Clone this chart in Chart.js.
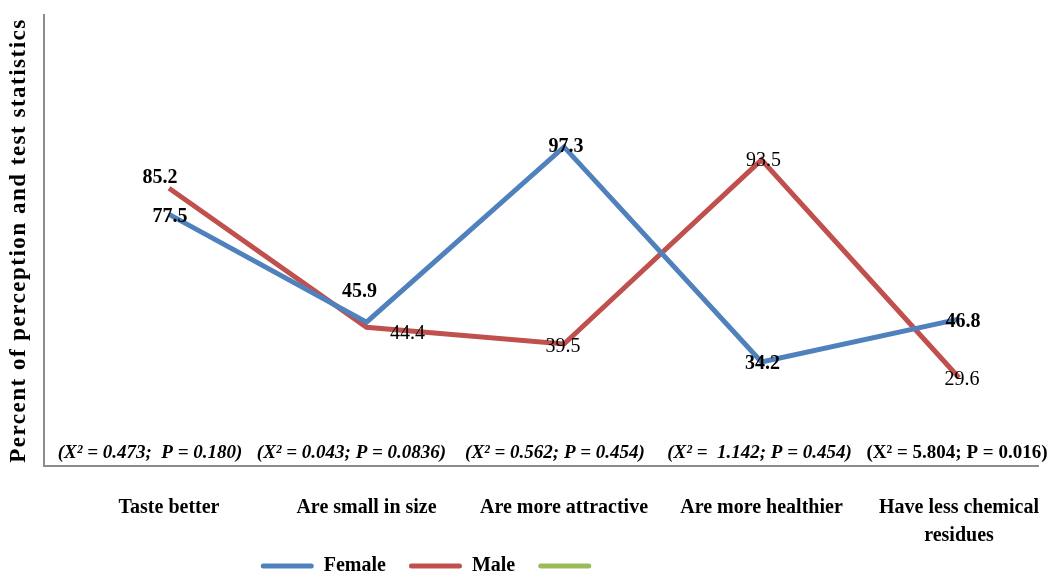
<!DOCTYPE html>
<html>
<head>
<meta charset="utf-8">
<script src="https://cdn.jsdelivr.net/npm/chart.js@4.4.1/dist/chart.umd.min.js"></script>
<style>
  html, body { margin: 0; padding: 0; background: #ffffff; }
  #wrap { width: 1055px; height: 581px; position: relative; }
</style>
</head>
<body>
<div id="wrap"><canvas id="chart" width="1055" height="581"></canvas></div>
<script>
// Perception of produce by respondent sex, with chi-square results per item
const categories = [
  'Taste better',
  'Are small in size',
  'Are more attractive',
  'Are more healthier',
  ['Have less chemical', 'residues']
];
const femaleValues = [77.5, 45.9, 97.3, 34.2, 46.8];
const maleValues = [85.2, 44.4, 39.5, 93.5, 29.6];
const testStats = [
  '(X\u00B2 = 0.473;  P = 0.180)',
  '(X\u00B2 = 0.043; P = 0.0836)',
  '(X\u00B2 = 0.562; P = 0.454)',
  '(X\u00B2 =  1.142; P = 0.454)',
  '(X\u00B2 = 5.804; P = 0.016)'
];

const SERIF = "'Liberation Serif', 'Times New Roman', serif";
const BLUE = '#4F81BD';
const RED = '#C0504D';
const GREEN = '#9BBB59';
const AXIS = '#8C8C8C';

// value label placement (offset from the point, weight)
const labelStyle = [
  [ {dx: 1, dy: 2, bold: true}, {dx: -7, dy: -30, bold: true}, {dx: 2, dy: 0, bold: true},
    {dx: 1, dy: 2, bold: true}, {dx: 4, dy: 3, bold: true} ],
  [ {dx: -9, dy: -10, bold: true}, {dx: 41, dy: 6, bold: false}, {dx: -1, dy: 3, bold: false},
    {dx: 2, dy: 1, bold: false}, {dx: 3, dy: 2, bold: false} ]
];
// test statistic placement along the bottom of the plot
const statShift = [-19, -15, -9, -2, -2];
const statItalic = [true, true, true, true, false];

const toPoints = vals => vals.map((v, i) => ({x: i, y: v}));

const valueLabels = {
  id: 'valueLabels',
  afterDatasetsDraw(chart) {
    const ctx = chart.ctx;
    ctx.save();
    ctx.fillStyle = '#000';
    ctx.textAlign = 'center';
    ctx.textBaseline = 'middle';
    [0, 1].forEach(di => {
      const meta = chart.getDatasetMeta(di);
      const vals = chart.data.datasets[di].data;
      meta.data.forEach((pt, i) => {
        const s = labelStyle[di][i];
        ctx.font = (s.bold ? 'bold ' : '') + '20px ' + SERIF;
        ctx.fillText(String(vals[i].y), pt.x + s.dx, pt.y + s.dy);
      });
    });
    ctx.restore();
  }
};

const statLabels = {
  id: 'statLabels',
  afterDraw(chart) {
    const ctx = chart.ctx;
    const xs = chart.scales.x;
    const area = chart.chartArea;
    ctx.save();
    ctx.fillStyle = '#000';
    ctx.textAlign = 'center';
    ctx.textBaseline = 'middle';
    testStats.forEach((t, i) => {
      ctx.font = (statItalic[i] ? 'italic ' : '') + 'bold 19px ' + SERIF;
      ctx.fillText(t, xs.getPixelForValue(i) + statShift[i], area.bottom - 13);
    });
    ctx.restore();
  }
};

// legend block sits left of centre, just under the category labels
const legendShift = {
  id: 'legendShift',
  afterLayout(chart) {
    const lg = chart.legend;
    lg.left -= 88; lg.right -= 88;
    lg.top -= 25; lg.bottom -= 25;
  }
};

// wider tracking for the vertical axis title
const titleTracking = {
  id: 'titleTracking',
  beforeDraw(chart) {
    const ys = chart.scales.y;
    if (!ys._trackedTitle) {
      const orig = ys.drawTitle;
      ys.drawTitle = function () {
        const ctx = this.ctx;
        ctx.save();
        ctx.letterSpacing = '1.5px';
        orig.apply(this, arguments);
        ctx.restore();
      };
      ys._trackedTitle = true;
    }
  }
};

new Chart(document.getElementById('chart'), {
  type: 'line',
  data: {
    datasets: [
      { label: 'Female', data: toPoints(femaleValues), borderColor: BLUE, backgroundColor: BLUE,
        borderWidth: 5, pointRadius: 0, tension: 0, borderJoinStyle: 'miter' },
      { label: 'Male', data: toPoints(maleValues), borderColor: RED, backgroundColor: RED,
        borderWidth: 5, pointRadius: 0, tension: 0, borderJoinStyle: 'miter' },
      { label: '', data: [], borderColor: GREEN, backgroundColor: GREEN,
        borderWidth: 5, pointRadius: 0 }
    ]
  },
  options: {
    responsive: false,
    animation: false,
    devicePixelRatio: 1,
    layout: { padding: { top: 15, right: 17, bottom: -30, left: 0 } },
    scales: {
      x: {
        type: 'linear',
        min: -0.633,
        max: 4.40,
        afterBuildTicks(scale) { scale.ticks = categories.map((c, i) => ({value: i})); },
        afterFit(scale) {
          scale.height = 92;
          scale.paddingLeft = 0;
          scale.paddingRight = 0;
        },
        grid: { display: false, drawTicks: false },
        border: { display: true, color: AXIS, width: 2 },
        ticks: {
          autoSkip: false,
          maxRotation: 0,
          padding: 28,
          color: '#000',
          font: { family: SERIF, size: 20, weight: 'bold', lineHeight: 1.4 },
          callback: (v) => categories[v]
        }
      },
      y: {
        min: 3.7,
        max: 136,
        afterFit(scale) { scale.width = 44; },
        grid: { display: false, drawTicks: false },
        border: { display: true, color: AXIS, width: 2 },
        ticks: { display: false },
        title: {
          display: true,
          text: 'Percent of perception and test statistics',
          color: '#000',
          padding: { top: 5, bottom: 0 },
          font: { family: SERIF, size: 23, weight: 'bold' }
        }
      }
    },
    plugins: {
      legend: {
        position: 'bottom',
        labels: {
          boxWidth: 53,
          boxHeight: 5,
          padding: 23,
          color: '#000',
          useBorderRadius: true,
          borderRadius: 2.5,
          font: { family: SERIF, size: 20, weight: 'bold' },
          generateLabels(chart) {
            return Chart.defaults.plugins.legend.labels.generateLabels(chart)
              .map(l => Object.assign(l, { lineWidth: 0, fillStyle: l.strokeStyle }));
          }
        }
      },
      tooltip: { enabled: false }
    }
  },
  plugins: [valueLabels, statLabels, legendShift, titleTracking]
});
</script>
</body>
</html>
